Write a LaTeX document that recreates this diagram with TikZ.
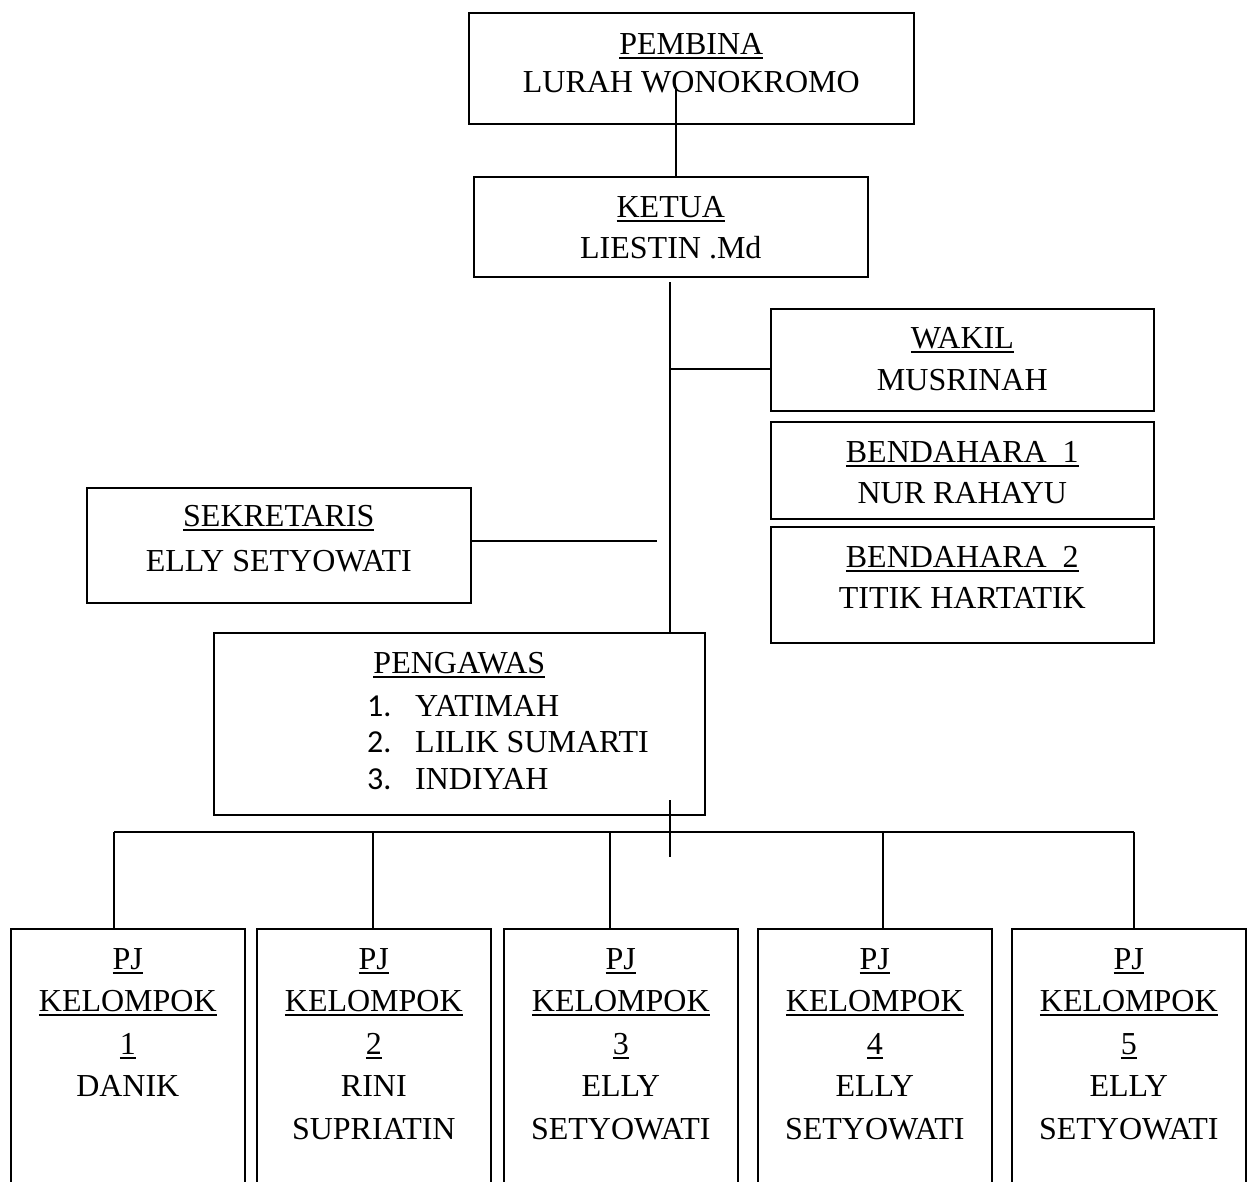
\documentclass[tikz,border=0pt]{standalone}
\usepackage{fontspec}
\setmainfont{Liberation Serif}
\newfontfamily\angka{Carlito}
\usetikzlibrary{positioning}
\newsavebox\gbox
\newcommand{\gb}[1]{\sbox\gbox{#1}\rlap{\rule[-4.4pt]{\wd\gbox}{1.8pt}}\usebox\gbox}
\begin{document}
\begin{tikzpicture}[x=1pt,y=-1pt,
  kotak/.style={draw, line width=1.6pt, inner sep=0pt, anchor=north west},
  teks/.style={inner sep=0pt, align=center, font=\fontsize{32}{#1}\selectfont},
  teks/.default=42,
  garis/.style={draw, line width=1.6pt}]
\useasboundingbox (0,0) rectangle (1249,1182);
\clip (0,0) rectangle (1249,1182);
\node[kotak, minimum width=445pt, minimum height=111pt] (pembina) at (468,12) {};
\node[teks=38, below=21pt of pembina.north] (pembina-t) {\gb{PEMBINA}\\LURAH WONOKROMO};
\node[kotak, minimum width=394pt, minimum height=100pt] (ketua) at (473,176) {};
\node[teks=41, below=20pt of ketua.north] (ketua-t) {\gb{KETUA}\\LIESTIN .Md};
\node[kotak, minimum width=383pt, minimum height=102pt] (wakil) at (770,308) {};
\node[teks, below=19pt of wakil.north] (wakil-t) {\gb{WAKIL}\\MUSRINAH};
\node[kotak, minimum width=383pt, minimum height=97pt] (bendahara1) at (770,421) {};
\node[teks=41, below=20pt of bendahara1.north] (bendahara1-t) {\gb{BENDAHARA~~1}\\NUR RAHAYU};
\node[kotak, minimum width=383pt, minimum height=116pt] (bendahara2) at (770,526) {};
\node[teks=41, below=20pt of bendahara2.north] (bendahara2-t) {\gb{BENDAHARA~~2}\\TITIK HARTATIK};
\node[kotak, minimum width=384pt, minimum height=115pt] (sekretaris) at (86,487) {};
\node[teks=45, below=18pt of sekretaris.north] (sekretaris-t) {\gb{SEKRETARIS}\\ELLY SETYOWATI};
\node[kotak, minimum width=491pt, minimum height=182pt] (pengawas) at (213,632) {};
\node[teks, below=20pt of pengawas.north] (pengawas-t) {\gb{PENGAWAS}};
\node[teks=36.5, align=left, anchor=north west] (pengawas-daftar) at (367,695)
  {\makebox[48pt][l]{\angka 1.}YATIMAH\\\makebox[48pt][l]{\angka 2.}LILIK SUMARTI\\\makebox[48pt][l]{\angka 3.}INDIYAH};
\foreach \i/\x/\nama in {1/10/DANIK, 2/256/{RINI\\SUPRIATIN}, 3/503/{ELLY\\SETYOWATI},
    4/757/{ELLY\\SETYOWATI}, 5/1011/{ELLY\\SETYOWATI}} {
  \node[kotak, minimum width=234pt, minimum height=300pt] (g\i) at (\x,928) {};
  \node[teks=42.5, below=20pt of g\i.north] (g\i-t) {\gb{PJ}\\\gb{KELOMPOK}\\\gb{\i}\\\nama};
}
\coordinate (a1) at (676,87);
\path[garis] (a1) -- (a1 |- ketua.north);
\coordinate (a2) at (670,282);
\path[garis] (a2) -- (a2 |- pengawas.north);
\coordinate (a3) at (670,369);
\path[garis] (a3) -- (a3 -| wakil.west);
\coordinate (a4) at (657,541);
\path[garis] (a4 -| sekretaris.east) -- (a4);
\coordinate (a5) at (670,800);
\coordinate (a6) at (670,857);
\path[garis] (a5) -- (a6);
\coordinate (kiri) at (114,832);
\coordinate (kanan) at (1134,832);
\path[garis] (kiri) -- (kanan);
\foreach \i/\x in {1/114,2/373,3/610,4/883,5/1134} {
  \coordinate (t\i) at (\x,832);
  \path[garis] (t\i) -- (t\i |- g\i.north);
}
\end{tikzpicture}
\end{document}
